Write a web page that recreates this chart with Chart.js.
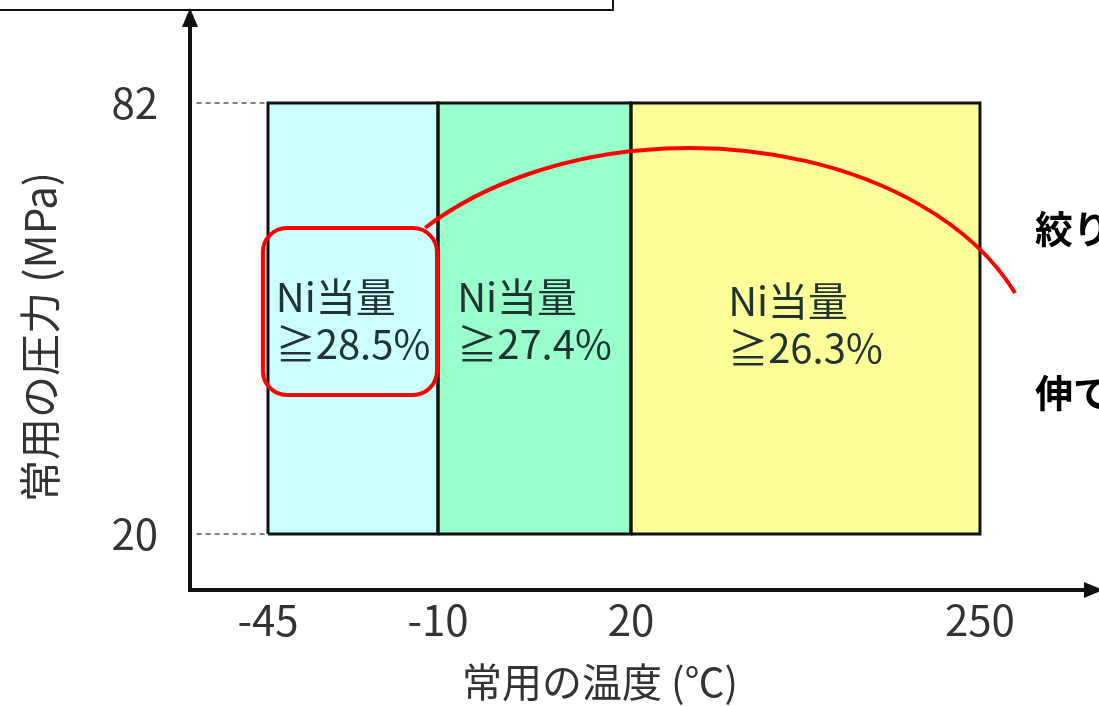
<!DOCTYPE html>
<html lang="ja">
<head>
<meta charset="utf-8">
<title>常用の温度・圧力と Ni当量</title>
<script src="https://cdn.jsdelivr.net/npm/chart.js@4.4.1/dist/chart.umd.min.js"></script>
<style>
  html, body { margin: 0; padding: 0; background: #fff; }
  #grafico { display: block; }
</style>
</head>
<body>
<canvas id="grafico" width="1099" height="706"></canvas>
<script>
// 温度の区切り (℃) と圧力の範囲 (MPa)
const temps = [-45, -10, 20, 250];
const pressures = [20, 82];
// 温度帯ごとの Ni当量 の下限 (%)
const niMin = [28.5, 27.4, 26.3];
const niLabel = 'Ni当量';
const sideNotes = ['絞り', '伸て'];

// 温度軸の目盛りは等間隔ではないので、軸上の位置は別に持つ
const axisSlots = [0, 1, 2.135, 4.188];
const slotOf = t => axisSlots[temps.indexOf(t)];

const bandColors = ['#ccffff', '#99ffcc', '#ffff99'];
const FONT = '"Noto Sans CJK JP", "Noto Sans", sans-serif';

// 温度帯ごとの四角
const bands = niMin.map((v, i) => {
  const x0 = slotOf(temps[i]);
  const x1 = slotOf(temps[i + 1]);
  return {
    label: niLabel + ' ≥' + v + '%',
    data: [
      { x: x0, y: pressures[0] }, { x: x0, y: pressures[1] },
      { x: x1, y: pressures[1] }, { x: x1, y: pressures[0] },
      { x: x0, y: pressures[0] }
    ],
    showLine: true,
    fill: 'shape',
    backgroundColor: bandColors[i],
    borderColor: '#111',
    borderWidth: 3,
    pointRadius: 0
  };
});

// 目盛りから枠までの破線
const guides = pressures.map(p => ({
  label: p + ' MPa',
  data: [{ x: -0.42, y: p }, { x: slotOf(temps[0]), y: p }],
  showLine: true,
  fill: false,
  borderColor: '#808080',
  borderWidth: 2,
  borderDash: [5, 4],
  pointRadius: 0
}));

// 赤枠と弧 (値の単位で指定)
const highlight = { x: [-0.03, 0.994], y: [40, 64], r: 24 };
const arc = { cx: 2.482, cy: 42.16, rx: 2.063, ry: 33.37, from: -139, to: -22 };

const decoraciones = {
  id: 'decoraciones',
  afterDatasetsDraw(chart) {
    const { ctx, width, chartArea } = chart;
    const { x, y } = chart.scales;
    const px = v => x.getPixelForValue(v);
    const py = v => y.getPixelForValue(v);
    ctx.save();

    // 左上の枠
    ctx.strokeStyle = '#111';
    ctx.lineWidth = 2;
    ctx.strokeRect(-5, -5, 618, 15);

    // 軸と矢印
    const ox = chartArea.left, oy = chartArea.bottom;
    ctx.lineWidth = 4;
    ctx.beginPath();
    ctx.moveTo(ox, oy + 2);
    ctx.lineTo(ox, 24);
    ctx.moveTo(ox - 2, oy);
    ctx.lineTo(width - 12, oy);
    ctx.stroke();
    ctx.fillStyle = '#111';
    ctx.beginPath();
    ctx.moveTo(ox, 8);
    ctx.lineTo(ox - 8, 27);
    ctx.lineTo(ox + 8, 27);
    ctx.closePath();
    ctx.fill();
    ctx.beginPath();
    ctx.moveTo(width + 4, oy);
    ctx.lineTo(width - 15, oy - 8);
    ctx.lineTo(width - 15, oy + 8);
    ctx.closePath();
    ctx.fill();

    // 温度帯ごとの Ni当量
    ctx.font = '40px ' + FONT;
    ctx.fillStyle = '#1f3333';
    ctx.textBaseline = 'middle';
    ctx.textAlign = 'left';
    const cy = py((pressures[0] + pressures[1]) / 2);
    niMin.forEach((v, i) => {
      const lines = [niLabel, '≧' + v.toFixed(1) + '%'];
      const w = Math.max(...lines.map(s => ctx.measureText(s).width));
      const cx = (px(slotOf(temps[i])) + px(slotOf(temps[i + 1]))) / 2;
      const drop = i === 2 ? 4 : 0;
      ctx.fillText(lines[0], cx - w / 2, cy - 22 + drop);
      ctx.fillText(lines[1], cx - w / 2, cy + 25 + drop);
    });

    // 赤枠と弧
    ctx.strokeStyle = '#ff0000';
    ctx.lineWidth = 4;
    const hx = px(highlight.x[0]), hw = px(highlight.x[1]) - hx;
    const hy = py(highlight.y[1]), hh = py(highlight.y[0]) - hy;
    ctx.beginPath();
    ctx.roundRect(hx, hy, hw, hh, highlight.r);
    ctx.stroke();
    const ecx = px(arc.cx), ecy = py(arc.cy);
    const erx = px(arc.cx + arc.rx) - ecx, ery = ecy - py(arc.cy + arc.ry);
    ctx.beginPath();
    ctx.ellipse(ecx, ecy, erx, ery, 0, arc.from * Math.PI / 180, arc.to * Math.PI / 180);
    ctx.stroke();

    // 右側の注記
    ctx.font = 'bold 38px ' + FONT;
    ctx.fillStyle = '#000';
    ctx.fillText(sideNotes[0], chartArea.right + 25, py(highlight.y[1]));
    ctx.fillText(sideNotes[1], chartArea.right + 25, py(40.4));

    ctx.restore();
  }
};

new Chart(document.getElementById('grafico'), {
  type: 'scatter',
  data: { datasets: [...bands, ...guides] },
  options: {
    responsive: false,
    animation: false,
    devicePixelRatio: 1,
    layout: { padding: { top: 84, right: 89, left: 0, bottom: 0 } },
    plugins: {
      legend: { display: false },
      tooltip: { enabled: false },
      filler: { drawTime: 'beforeDatasetsDraw' }
    },
    scales: {
      x: {
        type: 'linear',
        min: -0.4588,
        max: 4.3647,
        grid: { display: false, drawTicks: false },
        border: { display: false },
        afterBuildTicks: s => { s.ticks = temps.map(t => ({ value: slotOf(t) })); },
        afterFit: s => { s.height = 116; s.paddingLeft = 0; s.paddingRight = 0; },
        ticks: {
          autoSkip: false,
          maxRotation: 0,
          padding: 5,
          color: '#333',
          font: { family: FONT, size: 42 },
          callback: (v, i) => String(temps[i])
        },
        title: {
          display: true,
          text: '常用の温度 (℃)',
          color: '#333',
          font: { family: FONT, size: 40 },
          padding: { top: 0, bottom: 0 }
        }
      },
      y: {
        type: 'linear',
        min: 11.945,
        max: 84.73,
        grid: { display: false, drawTicks: false },
        border: { display: false },
        afterBuildTicks: s => { s.ticks = pressures.map(p => ({ value: p })); },
        afterFit: s => { s.width = 190; s.paddingTop = 0; s.paddingBottom = 0; },
        ticks: {
          padding: 32,
          color: '#333',
          font: { family: FONT, size: 42 }
        },
        title: {
          display: true,
          text: '常用の圧力 (MPa)',
          color: '#333',
          font: { family: FONT, size: 42 },
          padding: { top: 15, bottom: 0 }
        }
      }
    }
  },
  plugins: [decoraciones]
});
</script>
</body>
</html>
